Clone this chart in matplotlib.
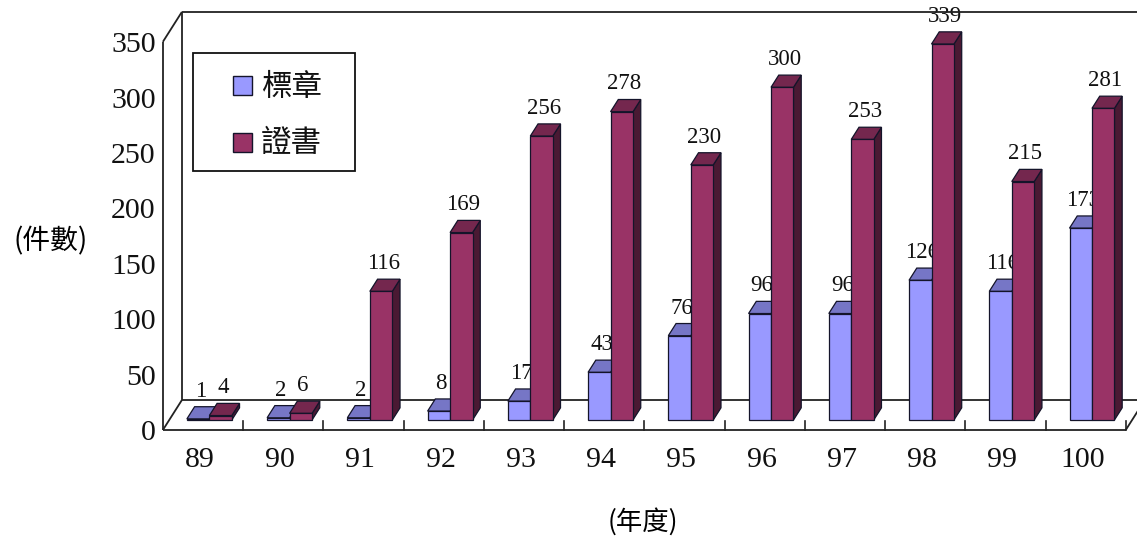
import matplotlib.pyplot as plt
from matplotlib.patches import Polygon, Rectangle

# ---- data ----
years = ["89", "90", "91", "92", "93", "94", "95", "96", "97", "98", "99", "100"]
badge = [1, 2, 2, 8, 17, 43, 76, 96, 96, 126, 116, 173]        # 標章
certificate = [4, 6, 116, 169, 256, 278, 230, 300, 253, 339, 215, 281]  # 證書
series_names = ["標章", "證書"]
y_ticks = [0, 50, 100, 150, 200, 250, 300, 350]

# ---- styling ----
BLUE = ("#9999FF", "#7676C6", "#4D4D80")      # front, top, side
MAROON = ("#993366", "#74274E", "#4A1933")
EDGE = "#14142a"
NUM_FONT = ["Liberation Serif", "DejaVu Serif"]
CJK_FONT = ["Noto Sans CJK TC", "DejaVu Sans"]

# oblique 3d look: shift per unit of depth (category units, value units)
DU, DV = 0.237, 27.0
Y_MAX = 350
BAR_D0, BAR_D1 = 1 / 3, 0.74
BAR_W = 0.28
LABEL_D = 0.45


def proj(u, v, d):
    return (u + d * DU, v + d * DV)


def box(u0, u1, h, face, z):
    front = [proj(u0, 0, BAR_D0), proj(u1, 0, BAR_D0), proj(u1, h, BAR_D0), proj(u0, h, BAR_D0)]
    top = [proj(u0, h, BAR_D0), proj(u1, h, BAR_D0), proj(u1, h, BAR_D1), proj(u0, h, BAR_D1)]
    side = [proj(u1, 0, BAR_D0), proj(u1, 0, BAR_D1), proj(u1, h, BAR_D1), proj(u1, h, BAR_D0)]
    for pts, col in ((side, face[2]), (top, face[1]), (front, face[0])):
        ax.add_patch(Polygon(pts, closed=True, facecolor=col, edgecolor=EDGE,
                             linewidth=0.9, joinstyle="miter", zorder=z))


def value_label(u_center, h, z):
    # label sits above the back edge of the bar's top face
    lx = u_center + LABEL_D * DU
    ly = h + BAR_D1 * DV + 14
    ax.text(lx, ly, str(h), ha="center", va="center",
            fontsize=16.5, family=NUM_FONT, color="#111111", zorder=z)


fig = plt.figure(figsize=(11.37, 5.38), dpi=100)
ax = fig.add_axes([0, 0, 1, 1])
n = len(years)
ax.set_xlim(-2.03, 12.14)
ax.set_ylim(-97.4, 387.7)
ax.axis("off")

# walls and floor
lk = dict(color="#222222", lw=1.3, solid_capstyle="butt")
ax.plot(*zip(proj(0, 0, 0), proj(n, 0, 0)), zorder=1, **lk)
ax.plot(*zip(proj(0, 0, 0), proj(0, 0, 1)), zorder=1, **lk)
ax.plot(*zip(proj(0, 0, 1), proj(n + 1, 0, 1)), zorder=1, **lk)
ax.plot(*zip(proj(n, 0, 0), proj(n, 0, 1)), zorder=1, **lk)
ax.plot(*zip(proj(0, 0, 0), proj(0, Y_MAX, 0)), zorder=1, **lk)
ax.plot(*zip(proj(0, Y_MAX, 0), proj(0, Y_MAX, 1)), zorder=1, **lk)
ax.plot(*zip(proj(0, 0, 1), proj(0, Y_MAX, 1)), zorder=1, **lk)
ax.plot(*zip(proj(0, Y_MAX, 1), proj(n + 1, Y_MAX, 1)), zorder=60, **lk)

# category ticks on the floor edge
for i in range(1, n + 1):
    ax.plot([i, i], [0, 8], color="#222222", lw=1.2, zorder=1)

# y tick labels
for t in y_ticks:
    ax.text(-0.09, t - 3, str(t), ha="right", va="center",
            fontsize=21.5, family=NUM_FONT, color="#111111")

# x tick labels
for i, yr in enumerate(years):
    ax.text(i + 0.46, -27, yr, ha="center", va="center",
            fontsize=21.5, family=NUM_FONT, color="#111111")

# bars and value labels
for i in range(n):
    z = 5 + i * 4
    u_b = i + 0.5 - BAR_W
    u_m = i + 0.5
    box(u_b, u_b + BAR_W, badge[i], BLUE, z)
    value_label(u_b + BAR_W / 2, badge[i], z + 1)
    box(u_m, u_m + BAR_W, certificate[i], MAROON, z + 2)
    value_label(u_m + BAR_W / 2, certificate[i], z + 3)

# axis titles
ax.text(-1.4, 170, "(件數)", ha="center", va="center", fontsize=20, family=CJK_FONT)
ax.text(5.98, -83, "(年度)", ha="center", va="center", fontsize=19, family=CJK_FONT)

# legend box
W, H = 1137, 538
tf = fig.transFigure
fig.patches.append(Rectangle((193 / W, 1 - 171 / H), 162 / W, 118 / H, transform=tf,
                             facecolor="white", edgecolor="#111111", linewidth=1.3, zorder=70))
for k, (name, face) in enumerate(zip(series_names, (BLUE, MAROON))):
    cy = 86 + 56 * k
    fig.patches.append(Rectangle((233 / W, 1 - (cy + 9.5) / H), 19 / W, 19 / H, transform=tf,
                                 facecolor=face[0], edgecolor=EDGE, linewidth=1.0, zorder=71))
    fig.text(261 / W, 1 - (cy + 1) / H, name, ha="left", va="center",
             fontsize=22, family=CJK_FONT, color="#111111", zorder=72)

fig.savefig("out.png", dpi=100, facecolor="white")
